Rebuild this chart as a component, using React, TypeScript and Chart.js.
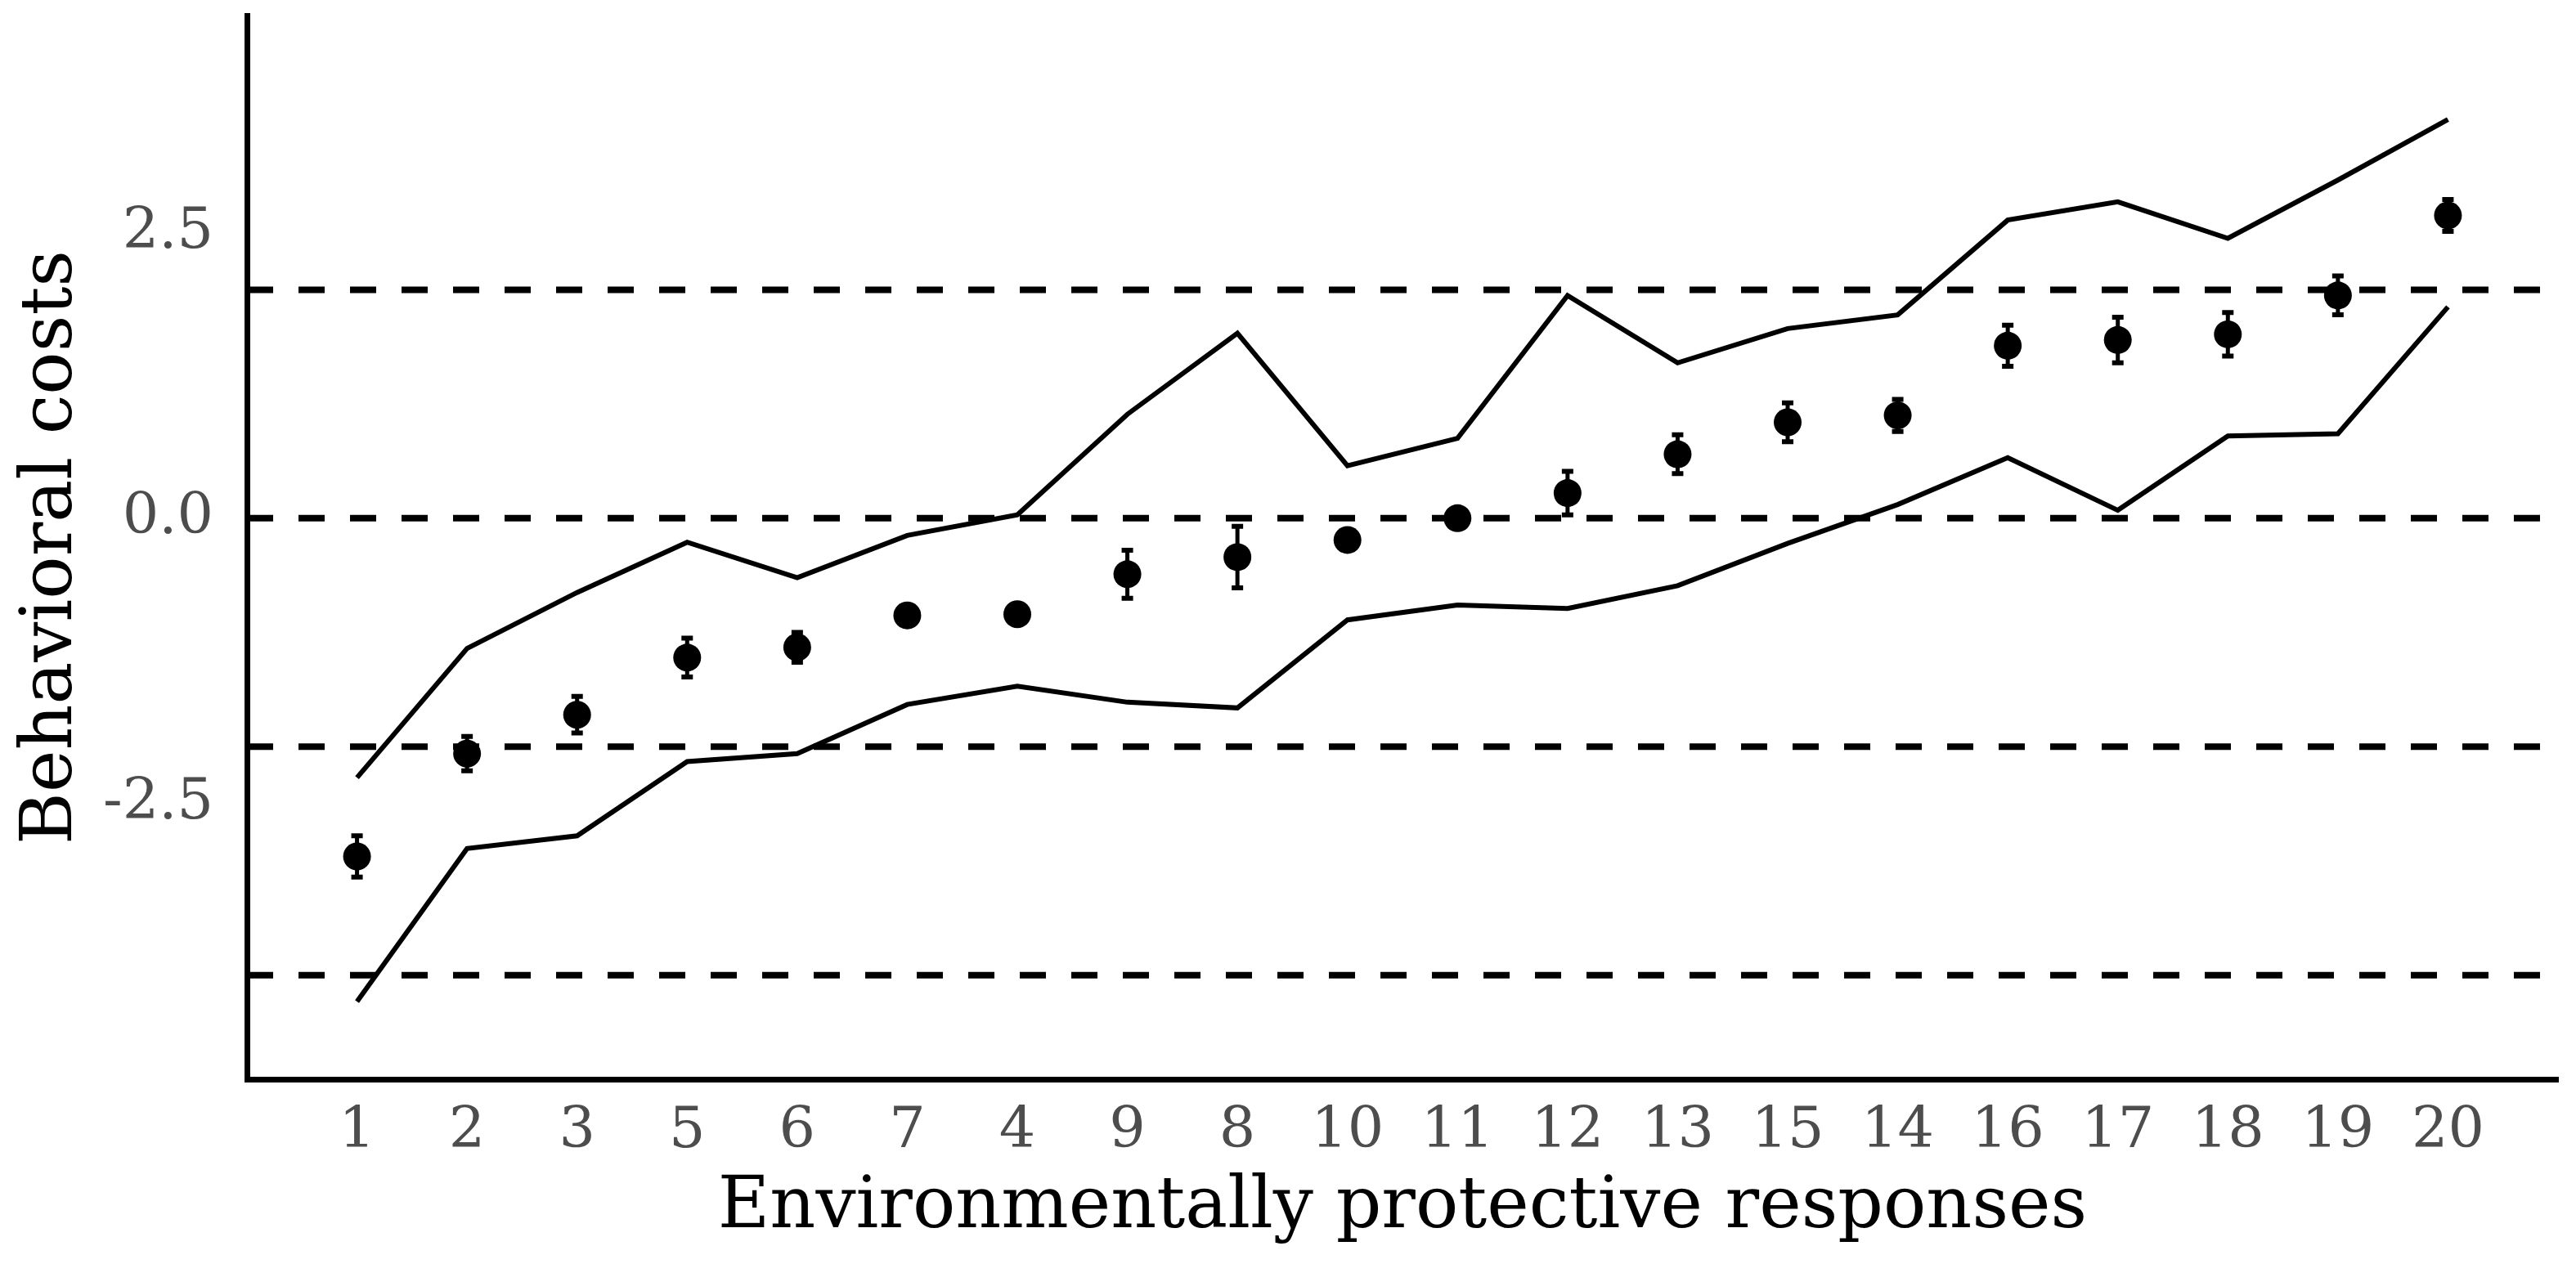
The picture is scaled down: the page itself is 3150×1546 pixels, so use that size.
import React, { useEffect, useRef } from 'react';
import { Chart, registerables } from 'chart.js';

Chart.register(...registerables);

// ---- Data ----
const categories = ['1', '2', '3', '5', '6', '7', '4', '9', '8', '10', '11', '12', '13', '15', '14', '16', '17', '18', '19', '20'];
const means = [-2.96, -2.06, -1.72, -1.22, -1.13, -0.85, -0.84, -0.49, -0.34, -0.19, 0.0, 0.22, 0.56, 0.84, 0.9, 1.51, 1.56, 1.61, 1.95, 2.65];
const errors = [0.18, 0.15, 0.16, 0.17, 0.13, 0.07, 0.07, 0.21, 0.27, 0.07, 0.06, 0.19, 0.17, 0.17, 0.14, 0.18, 0.2, 0.19, 0.17, 0.14];
const upperBound = [-2.27, -1.14, -0.65, -0.21, -0.52, -0.15, 0.03, 0.91, 1.62, 0.46, 0.7, 1.95, 1.36, 1.66, 1.78, 2.61, 2.77, 2.45, 2.96, 3.49];
const lowerBound = [-4.23, -2.89, -2.78, -2.13, -2.06, -1.63, -1.47, -1.61, -1.66, -0.89, -0.76, -0.79, -0.59, -0.22, 0.12, 0.53, 0.07, 0.72, 0.74, 1.85];
const referenceLines = [-4, -2, 0, 2];
const yTickValues = [-2.5, 0, 2.5];
const xTitle = 'Environmentally protective responses';
const yTitle = 'Behavioral costs';

const FONT = "'DejaVu Serif', serif";

export default function App() {
  const canvasRef = useRef<HTMLCanvasElement | null>(null);

  useEffect(() => {
    document.body.style.margin = '0';
    const canvas = canvasRef.current;
    if (!canvas) return;

    const refLinePlugin = {
      id: 'refLines',
      beforeDatasetsDraw(chart: any) {
        const { ctx, chartArea, scales } = chart;
        const y = scales.y;
        ctx.save();
        ctx.strokeStyle = '#000';
        ctx.lineWidth = 8;
        ctx.lineCap = 'butt';
        ctx.setLineDash([32, 31]);
        for (const v of referenceLines) {
          const py = y.getPixelForValue(v);
          ctx.beginPath();
          ctx.moveTo(chartArea.left, py);
          ctx.lineTo(chartArea.right, py);
          ctx.stroke();
        }
        ctx.restore();
      },
    };

    const errorBarPlugin = {
      id: 'errorBars',
      afterDatasetsDraw(chart: any) {
        const { ctx, scales } = chart;
        const x = scales.x;
        const y = scales.y;
        ctx.save();
        ctx.strokeStyle = '#000';
        ctx.lineCap = 'butt';
        means.forEach((m, i) => {
          const px = x.getPixelForValue(i);
          const top = y.getPixelForValue(m + errors[i]);
          const bot = y.getPixelForValue(m - errors[i]);
          ctx.lineWidth = 5;
          ctx.beginPath();
          ctx.moveTo(px, top);
          ctx.lineTo(px, bot);
          ctx.stroke();
          ctx.lineWidth = 6;
          ctx.beginPath();
          ctx.moveTo(px - 7, top);
          ctx.lineTo(px + 7, top);
          ctx.moveTo(px - 7, bot);
          ctx.lineTo(px + 7, bot);
          ctx.stroke();
        });
        ctx.restore();
      },
    };

    const toXY = (arr: number[]) => arr.map((v, i) => ({ x: i, y: v }));

    const chart = new Chart(canvas, {
      type: 'line',
      data: {
        datasets: [
          {
            type: 'line',
            label: 'upper',
            data: toXY(upperBound),
            borderColor: '#000',
            borderWidth: 6,
            pointRadius: 0,
            tension: 0,
            fill: false,
          },
          {
            type: 'line',
            label: 'lower',
            data: toXY(lowerBound),
            borderColor: '#000',
            borderWidth: 6,
            pointRadius: 0,
            tension: 0,
            fill: false,
          },
          {
            type: 'scatter',
            label: 'mean',
            data: toXY(means),
            backgroundColor: '#000',
            borderColor: '#000',
            borderWidth: 0,
            pointRadius: 17,
            showLine: false,
          } as any,
        ],
      },
      options: {
        animation: false,
        responsive: true,
        maintainAspectRatio: false,
        layout: { padding: { left: 0, right: 22, top: 19, bottom: 0 } },
        plugins: {
          legend: { display: false },
          tooltip: { enabled: false },
        },
        scales: {
          x: {
            type: 'linear',
            position: 'bottom',
            min: -1,
            max: 20,
            grid: { display: false, drawTicks: false },
            border: { display: true, color: '#000', width: 7 },
            afterBuildTicks: (scale: any) => {
              scale.ticks = categories.map((_, i) => ({ value: i }));
            },
            afterFit: (scale: any) => {
              scale.height = 1546 - 1320;
              scale.paddingLeft = 0;
              scale.paddingRight = 0;
              scale.paddingTop = 0;
              scale.paddingBottom = 0;
            },
            ticks: {
              autoSkip: false,
              maxRotation: 0,
              minRotation: 0,
              padding: 23,
              color: '#4D4D4D',
              font: { family: FONT, size: 70 },
              callback: (v: any) => categories[v as number] ?? '',
            },
            title: {
              display: true,
              text: xTitle,
              color: '#000',
              font: { family: FONT, size: 87 },
              padding: { top: 0, bottom: 15 },
            },
          },
          y: {
            type: 'linear',
            min: -4.91,
            max: 4.4,
            grid: { display: false, drawTicks: false },
            border: { display: true, color: '#000', width: 7 },
            afterBuildTicks: (scale: any) => {
              scale.ticks = yTickValues.map((v) => ({ value: v }));
            },
            afterFit: (scale: any) => {
              scale.width = 302;
              scale.paddingLeft = 0;
              scale.paddingRight = 0;
              scale.paddingTop = 0;
              scale.paddingBottom = 0;
            },
            ticks: {
              padding: 41,
              color: '#4D4D4D',
              font: { family: FONT, size: 70 },
              callback: (v: any) => Number(v).toFixed(1),
            },
            title: {
              display: true,
              text: yTitle,
              color: '#000',
              font: { family: FONT, size: 87 },
              padding: { top: 12, bottom: 0 },
            },
          },
        },
      },
      plugins: [refLinePlugin, errorBarPlugin],
    });

    return () => {
      chart.destroy();
    };
  }, []);

  return (
    <div style={{ position: 'fixed', left: 0, top: 0, width: 3150, height: 1546, background: '#fff' }}>
      <canvas ref={canvasRef} />
    </div>
  );
}
